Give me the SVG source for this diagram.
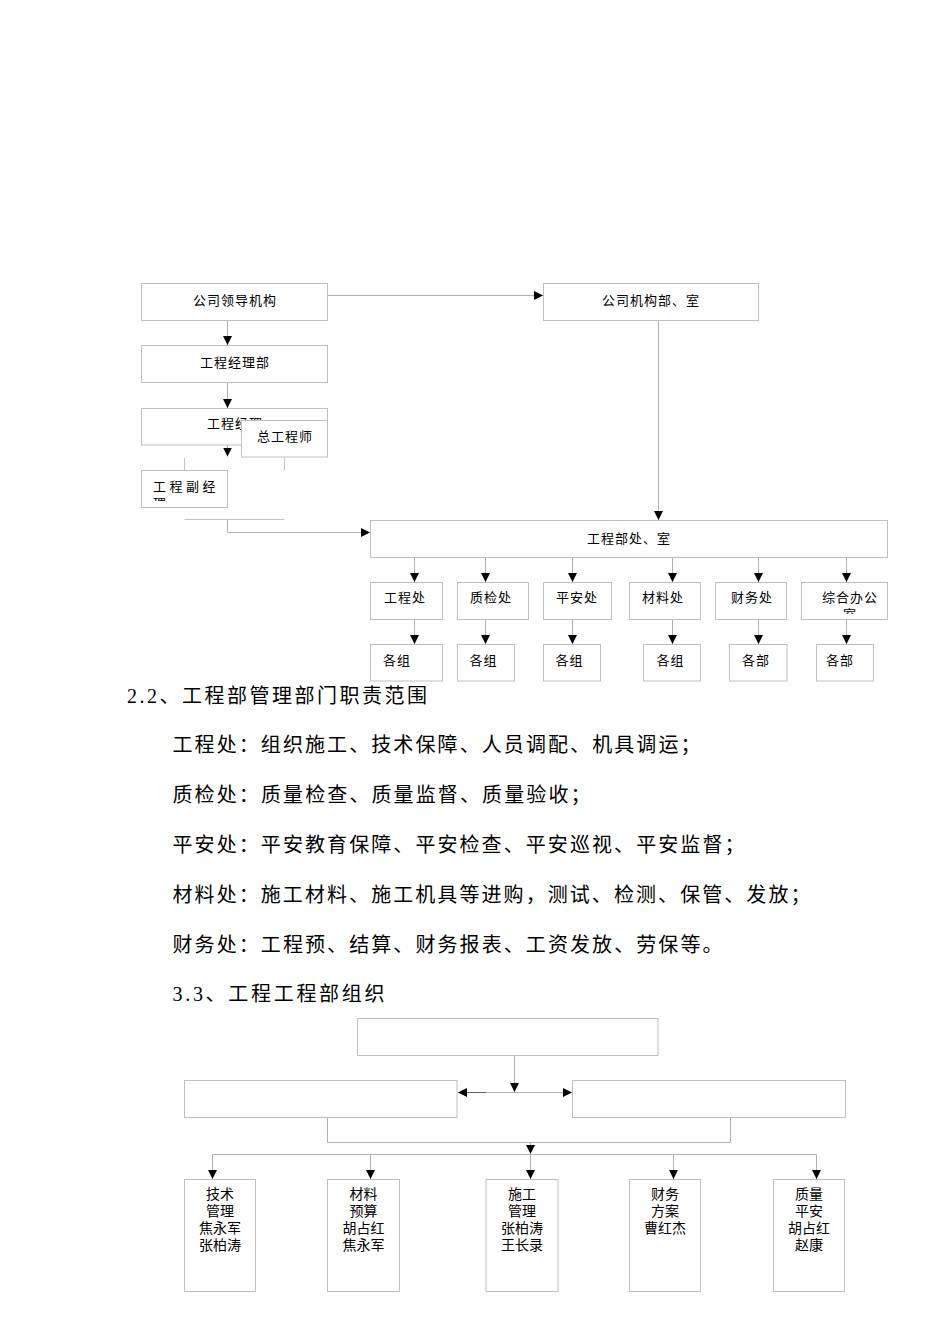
<svg xmlns="http://www.w3.org/2000/svg" width="950" height="1344" viewBox="0 0 950 1344">
<style>
.box{fill:#fff;stroke:#bfbfbf;stroke-width:1}
.ln{fill:none;stroke:#b0b0b0;stroke-width:1}
.fr{fill:none;stroke:#c4c4c4;stroke-width:1}
.arr{marker-end:url(#ah)}
text{font-family:"Liberation Serif","Noto Sans CJK SC",serif;fill:#000;dominant-baseline:central}
.s{font-size:13px;letter-spacing:1px;text-anchor:middle}
.sl{font-size:13px;letter-spacing:1px}
.b{font-size:14px;text-anchor:middle}
.p{font-size:20px}
</style>
<defs>
<marker id="ah" markerUnits="userSpaceOnUse" markerWidth="9" markerHeight="9" refX="9" refY="4.5" orient="auto-start-reverse"><path d="M0,0 L9,4.5 L0,9 z" fill="#000"/></marker>
<clipPath id="c6"><rect x="141" y="470" width="87" height="31"/></clipPath>
<clipPath id="c13"><rect x="801" y="582" width="87" height="32"/></clipPath>
</defs>

<g id="connectors">
<path class="ln arr" d="M327.5,295.5 H543"/>
<path class="ln arr" d="M227.5,320.5 V345"/>
<path class="ln arr" d="M227.5,382.5 V408"/>
<path class="ln arr" d="M227.5,445 V456.5"/>
<path class="ln arr" d="M658.5,320.5 V520"/>
<path class="ln arr" d="M227.5,520 V532.5 H370"/>
<path class="fr" d="M184.5,408 V420 M284.5,408 V420 M184.5,458 V470 M284.5,457 V470 M184.5,519.5 H284.5"/>
<path class="ln arr" d="M414.5,557.5 V582"/>
<path class="ln arr" d="M485.5,557.5 V582"/>
<path class="ln arr" d="M572.5,557.5 V582"/>
<path class="ln arr" d="M672.5,557.5 V582"/>
<path class="ln arr" d="M758.5,557.5 V582"/>
<path class="ln arr" d="M846.5,557.5 V582"/>
<path class="ln arr" d="M414.5,619.5 V644"/>
<path class="ln arr" d="M485.5,619.5 V644"/>
<path class="ln arr" d="M572.5,619.5 V644"/>
<path class="ln arr" d="M672.5,619.5 V644"/>
<path class="ln arr" d="M758.5,619.5 V644"/>
<path class="ln arr" d="M846.5,619.5 V644"/>

<path class="ln arr" d="M514.5,1055.5 V1092"/>
<path class="ln" d="M458,1092.5 H572" marker-start="url(#ah)" marker-end="url(#ah)"/>
<path fill="none" stroke="#606060" d="M467,1092.5 H486"/>
<path class="ln" d="M327.5,1117.5 V1142.5 H730.5 V1117.5"/>
<path class="ln arr" d="M530.5,1142.5 V1154"/>
<path class="ln" d="M212.5,1154.5 H816.5"/>
<path class="ln arr" d="M212.5,1154.5 V1179"/>
<path class="ln arr" d="M370.5,1154.5 V1179"/>
<path class="ln arr" d="M530.5,1154.5 V1179"/>
<path class="ln arr" d="M673.5,1154.5 V1179"/>
<path class="ln arr" d="M816.5,1154.5 V1179"/>
</g>

<g id="n-gongsilingdao"><rect class="box" x="141.5" y="283.5" width="186" height="37"/><text class="s" x="235" y="300">公司领导机构</text></g>
<g id="n-gongsijigou"><rect class="box" x="543.5" y="283.5" width="215" height="37"/><text class="s" x="651" y="300">公司机构部、室</text></g>
<g id="n-jinglibu"><rect class="box" x="141.5" y="345.5" width="186" height="37"/><text class="s" x="235" y="362">工程经理部</text></g>
<g id="n-jingli"><rect class="box" x="141.5" y="408.5" width="186" height="36.5"/><text class="s" x="235" y="423">工程经理</text></g>
<g id="n-zonggong"><rect class="box" x="241.5" y="420.5" width="86" height="36.5"/><text class="s" x="285" y="436">总工程师</text></g>
<g id="n-fujingli"><rect class="box" x="141.5" y="470.5" width="86" height="37"/><g clip-path="url(#c6)"><text class="sl" x="153" y="486" style="letter-spacing:3.5px">工程副经</text><text class="sl" x="153" y="503">理</text></g></g>
<g id="n-chushi"><rect class="box" x="370.5" y="520.5" width="517" height="37"/><text class="s" x="629" y="538">工程部处、室</text></g>

<g id="n-gongchengchu"><rect class="box" x="370.5" y="582.5" width="72" height="37"/><text class="s" x="405" y="597.5">工程处</text></g>
<g id="n-zhijianchu"><rect class="box" x="457.5" y="582.5" width="71" height="37"/><text class="s" x="491" y="597.5">质检处</text></g>
<g id="n-pinganchu"><rect class="box" x="543.5" y="582.5" width="68" height="37"/><text class="s" x="577" y="597.5">平安处</text></g>
<g id="n-cailiaochu"><rect class="box" x="629.5" y="582.5" width="71" height="37"/><text class="s" x="663" y="597.5">材料处</text></g>
<g id="n-caiwuchu"><rect class="box" x="715.5" y="582.5" width="71" height="37"/><text class="s" x="752" y="597.5">财务处</text></g>
<g id="n-zonghe"><rect class="box" x="801.5" y="582.5" width="86" height="37"/><g clip-path="url(#c13)"><text class="s" x="850" y="597.5">综合办公</text><text class="s" x="850" y="614.5">室</text></g></g>

<g id="n-gezu1"><rect class="box" x="370.5" y="644.5" width="72" height="36.5"/><text class="sl" x="383" y="660">各组</text></g>
<g id="n-gezu2"><rect class="box" x="457.5" y="644.5" width="57" height="36.5"/><text class="sl" x="469.5" y="660">各组</text></g>
<g id="n-gezu3"><rect class="box" x="543.5" y="644.5" width="57" height="36.5"/><text class="sl" x="555.5" y="660">各组</text></g>
<g id="n-gezu4"><rect class="box" x="643.5" y="644.5" width="57" height="36.5"/><text class="sl" x="656.5" y="660">各组</text></g>
<g id="n-gebu5"><rect class="box" x="729.5" y="644.5" width="57.5" height="36.5"/><text class="sl" x="742" y="660">各部</text></g>
<g id="n-gebu6"><rect class="box" x="816.5" y="644.5" width="57" height="36.5"/><text class="sl" x="826" y="660">各部</text></g>

<g id="text-section">
<text class="p" x="127" y="696" textLength="300" lengthAdjust="spacing">2.2、工程部管理部门职责范围</text>
<text class="p" x="172.5" y="745" textLength="528" lengthAdjust="spacing">工程处：组织施工、技术保障、人员调配、机具调运；</text>
<text class="p" x="172.5" y="795" textLength="418" lengthAdjust="spacing">质检处：质量检查、质量监督、质量验收；</text>
<text class="p" x="172.5" y="845" textLength="572" lengthAdjust="spacing">平安处：平安教育保障、平安检查、平安巡视、平安监督；</text>
<text class="p" x="172.5" y="895" textLength="638" lengthAdjust="spacing">材料处：施工材料、施工机具等进购，测试、检测、保管、发放；</text>
<text class="p" x="172.5" y="945" textLength="550" lengthAdjust="spacing">财务处：工程预、结算、财务报表、工资发放、劳保等。</text>
<text class="p" x="172.5" y="994" textLength="212" lengthAdjust="spacing">3.3、工程工程部组织</text>
</g>

<g id="m-top"><rect class="box" x="357.5" y="1018.5" width="300.5" height="37"/></g>
<g id="m-left"><rect class="box" x="184.5" y="1080.5" width="272.5" height="37"/></g>
<g id="m-right"><rect class="box" x="572.5" y="1080.5" width="273" height="37"/></g>

<g id="m-jishu"><rect class="box" x="184.5" y="1179.5" width="71" height="112"/>
<text class="b" x="220" y="1194">技术</text><text class="b" x="220" y="1211">管理</text><text class="b" x="220" y="1228">焦永军</text><text class="b" x="220" y="1245">张柏涛</text></g>
<g id="m-cailiao"><rect class="box" x="327.5" y="1179.5" width="72" height="112"/>
<text class="b" x="363.5" y="1194">材料</text><text class="b" x="363.5" y="1211">预算</text><text class="b" x="363.5" y="1228">胡占红</text><text class="b" x="363.5" y="1245">焦永军</text></g>
<g id="m-shigong"><rect class="box" x="486" y="1179.5" width="72" height="112"/>
<text class="b" x="522" y="1194">施工</text><text class="b" x="522" y="1211">管理</text><text class="b" x="522" y="1228">张柏涛</text><text class="b" x="522" y="1245">王长录</text></g>
<g id="m-caiwu"><rect class="box" x="629.5" y="1179.5" width="71" height="112"/>
<text class="b" x="665" y="1194">财务</text><text class="b" x="665" y="1211">方案</text><text class="b" x="665" y="1228">曹红杰</text></g>
<g id="m-zhiliang"><rect class="box" x="773.5" y="1179.5" width="71" height="112"/>
<text class="b" x="809" y="1194">质量</text><text class="b" x="809" y="1211">平安</text><text class="b" x="809" y="1228">胡占红</text><text class="b" x="809" y="1245">赵康</text></g>
</svg>
